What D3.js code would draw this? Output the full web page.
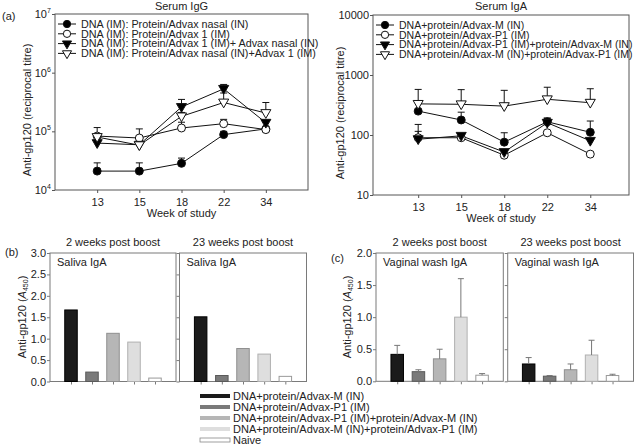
<!DOCTYPE html>
<html><head><meta charset="utf-8">
<script src="https://cdn.jsdelivr.net/npm/d3@7"></script>
<style>body{margin:0;background:#fff}svg text{font-family:"Liberation Sans",Arial,sans-serif;fill:#222}</style>
</head><body><svg id="c" width="635" height="447"></svg>
<script>
// ---------- DATA ----------
const weeks = ["13","15","18","22","34"];
const iggNames = ["DNA (IM): Protein/Advax nasal (IN)","DNA (IM): Protein/Advax 1 (IM)","DNA (IM): Protein/Advax 1 (IM)+ Advax nasal (IN)","DNA (IM): Protein/Advax nasal (IN)+Advax 1 (IM)"];
const igg1 = [2.1e4, 2.1e4, 2.85e4, 8.8e4, 1.1e5];
const igg1Err = [2.9e4, 2.9e4, 3.5e4, 1.0e5, 1.15e5];
const igg2 = [8.3e4, 7.7e4, 1.14e5, 1.35e5, 1.07e5];
const igg2Err = [1.16e5, 1.1e5, 1.43e5, 1.6e5, 1.12e5];
const igg3 = [6.3e4, 5.9e4, 2.6e5, 5.3e5, 1.4e5];
const igg3Err = [7e4, 6.5e4, 3.5e5, 6.3e5, 1.5e5];
const igg4 = [8.0e4, 5.8e4, 1.8e5, 3.1e5, 2.05e5];
const igg4Err = [9e4, 6.5e4, 2.1e5, 4.5e5, 3.1e5];
const iggTicks = [1e4, 1e5, 1e6, 1e7];

const igaNames = ["DNA+protein/Advax-M (IN)","DNA+protein/Advax-P1 (IM)","DNA+protein/Advax-P1 (IM)+protein/Advax-M (IN)","DNA+protein/Advax-M (IN)+protein/Advax-P1 (IM)"];
const iga1 = [250, 178, 76, 166, 111];
const iga1Err = [255, 240, 109, 192, 171];
const iga2 = [90, 90, 46, 109, 48];
const iga2Err = [115, 93, 48, 112, 50];
const iga3 = [85, 97, 52, 160, 80];
const iga3Err = [150, 100, 55, 190, 85];
const iga4 = [330, 325, 303, 394, 345];
const iga4Err = [575, 570, 555, 625, 590];
const igaTicks = [10, 100, 1000, 10000];

const groups = ["DNA+protein/Advax-M (IN)","DNA+protein/Advax-P1 (IM)","DNA+protein/Advax-P1 (IM)+protein/Advax-M (IN)","DNA+protein/Advax-M (IN)+protein/Advax-P1 (IM)","Naive"];
const salivaWk2 = [1.67, 0.22, 1.125, 0.92, 0.08];
const salivaWk23 = [1.51, 0.14, 0.77, 0.64, 0.12];
const vaginalWk2 = [0.42, 0.15, 0.35, 1.0, 0.095];
const vaginalWk2Err = [0.56, 0.18, 0.50, 1.60, 0.12];
const vaginalWk23 = [0.27, 0.08, 0.18, 0.41, 0.09];
const vaginalWk23Err = [0.37, 0.09, 0.27, 0.64, 0.11];
const salivaTicks = [0, 0.5, 1.0, 1.5, 2.0, 2.5, 3.0];
const vaginalTicks = [0, 0.5, 1.0, 1.5, 2.0];

// ---------- STYLES ----------
const barFill = ["#1b1b1b","#7a7a7a","#b6b6b6","#dedede","#ffffff"];
const barStroke = ["#000","#5a5a5a","#8f8f8f","#b0b0b0","#999"];
const FS = 11;

const svg = d3.select("#c");

function txt(x, y, s, opts={}) {
  const t = svg.append("text").attr("x", x).attr("y", y).attr("font-size", opts.size||FS)
    .attr("text-anchor", opts.anchor||"start").text(s);
  if (opts.rotate) t.attr("transform", `rotate(-90,${x},${y})`);
  return t;
}

// ---------- LINE PANELS ----------
function linePanel(cfg) {
  const {x0,x1,y0,y1,dom,xdom,series,names,ticks,tickFmt,title,ylabelX,legSize} = cfg;
  const x = d3.scaleLinear().domain(xdom).range([x0,x1]);
  const y = d3.scaleLog().domain(dom).range([y1,y0]);
  const g = svg.append("g");
  g.append("rect").attr("x",x0).attr("y",y0).attr("width",x1-x0).attr("height",y1-y0)
    .attr("fill","none").attr("stroke","#555").attr("stroke-width",1);
  const ya = d3.axisLeft(y).tickValues(ticks).tickSize(3).tickFormat("");
  g.append("g").attr("transform",`translate(${x0},0)`).call(ya)
    .call(s=>{s.select(".domain").remove(); s.selectAll("line").attr("stroke","#555");});
  ticks.forEach(t=>tickFmt(x0-4, y(t)+4, t));
  const xa = d3.axisBottom(x).tickValues(d3.range(weeks.length)).tickSize(3).tickFormat(i=>weeks[i]);
  g.append("g").attr("transform",`translate(0,${y1})`).call(xa)
    .call(s=>{s.select(".domain").remove(); s.selectAll("line").attr("stroke","#555");
      s.selectAll("text").attr("font-size",FS).attr("font-family","Liberation Sans, Arial, sans-serif").attr("fill","#222").attr("dy","0.9em");});
  txt((x0+x1)/2, 10, title, {anchor:"middle"});
  txt((x0+x1)/2, y1+27, "Week of study", {anchor:"middle"});
  txt(ylabelX, (y0+y1)/2+8, "Anti-gp120  (reciprocal titre)", {anchor:"middle", rotate:true});

  const line = d3.line().x((d,i)=>x(i)).y(d=>y(d));
  const sym = [
    {type:d3.symbolCircle, fill:"#000", size:50, rot:0},
    {type:d3.symbolCircle, fill:"#fff", size:50, rot:0},
    {type:d3.symbolTriangle, fill:"#000", size:44, rot:180},
    {type:d3.symbolTriangle, fill:"#fff", size:44, rot:180}
  ];
  series.forEach(s=>{
    g.append("path").attr("d",line(s.v)).attr("fill","none").attr("stroke","#111").attr("stroke-width",1);
  });
  series.forEach(s=>{
    s.v.forEach((v,i)=>{
      const e = s.e[i];
      if (e > v) {
        g.append("line").attr("x1",x(i)).attr("x2",x(i)).attr("y1",y(v)).attr("y2",y(e)).attr("stroke","#111");
        g.append("line").attr("x1",x(i)-3.5).attr("x2",x(i)+3.5).attr("y1",y(e)).attr("y2",y(e)).attr("stroke","#111");
      }
    });
  });
  series.forEach((s,k)=>{
    const sm = sym[k];
    s.v.forEach((v,i)=>{
      g.append("path").attr("d",d3.symbol().type(sm.type).size(sm.size)())
        .attr("transform",`translate(${x(i)},${y(v)+(sm.rot?-0.5:0)}) rotate(${sm.rot})`)
        .attr("fill",sm.fill).attr("stroke","#111").attr("stroke-width",1);
    });
  });
  names.forEach((n,k)=>{
    const ly = y0+10+k*9.8;
    const lx = x0+3;
    g.append("line").attr("x1",lx).attr("x2",lx+18).attr("y1",ly).attr("y2",ly).attr("stroke","#111");
    const sm = sym[k];
    g.append("path").attr("d",d3.symbol().type(sm.type).size(sm.size-8)())
      .attr("transform",`translate(${lx+9},${ly}) rotate(${sm.rot})`)
      .attr("fill",sm.fill).attr("stroke","#111");
    txt(lx+23, ly+3.8, n, {size:legSize});
  });
}

linePanel({x0:55,x1:308,y0:14,y1:190,dom:[1e4,1e7],xdom:[-1,5],ylabelX:31,legSize:10.8,
  series:[{v:igg1,e:igg1Err},{v:igg2,e:igg2Err},{v:igg3,e:igg3Err},{v:igg4,e:igg4Err}],
  names:iggNames,ticks:iggTicks,title:"Serum IgG",
  tickFmt:(x,y,t)=>{
    const e = Math.round(Math.log10(t));
    svg.append("text").attr("x",x-4).attr("y",y).attr("font-size",FS).attr("text-anchor","end").text("10");
    svg.append("text").attr("x",x-4).attr("y",y-5).attr("font-size",7).attr("text-anchor","start").text(e);
  }});
linePanel({x0:373,x1:629,y0:15,y1:195,dom:[10,10000],xdom:[-1.05,4.9],ylabelX:344,legSize:10.5,
  series:[{v:iga1,e:iga1Err},{v:iga2,e:iga2Err},{v:iga3,e:iga3Err},{v:iga4,e:iga4Err}],
  names:igaNames,ticks:igaTicks,title:"Serum IgA",
  tickFmt:(x,y,t)=>{ txt(x,y,String(t),{anchor:"end"}); }});

txt(2, 20, "(a)");

// ---------- BAR PANELS ----------
function barBox(cfg) {
  const {x0,x1,y0,y1,dom,vals,errs,ticks,labels,label,title} = cfg;
  const x = d3.scaleLinear().domain([0,6]).range([x0,x1]);
  const y = d3.scaleLinear().domain(dom).range([y1,y0]);
  const g = svg.append("g");
  g.append("rect").attr("x",x0).attr("y",y0).attr("width",x1-x0).attr("height",y1-y0)
    .attr("fill","none").attr("stroke","#7a7a7a");
  const ya = d3.axisLeft(y).tickValues(ticks).tickSize(3).tickFormat(labels? d3.format(".1f") : "");
  g.append("g").attr("transform",`translate(${x0},0)`).call(ya)
    .call(s=>{s.select(".domain").remove(); s.selectAll("line").attr("stroke","#7a7a7a");
      s.selectAll("text").attr("font-size",FS).attr("font-family","Liberation Sans, Arial, sans-serif").attr("fill","#222").attr("x",-4);});
  const xa = d3.axisBottom(x).tickValues(d3.range(1,6)).tickSize(3).tickFormat("");
  g.append("g").attr("transform",`translate(0,${y1})`).call(xa)
    .call(s=>{s.select(".domain").remove(); s.selectAll("line").attr("stroke","#7a7a7a");});
  const bw = 12.5;
  vals.forEach((v,i)=>{
    g.append("rect").attr("x",x(i+1)-bw/2).attr("y",y(v)).attr("width",bw).attr("height",y(0)-y(v))
      .attr("fill",barFill[i]).attr("stroke",barStroke[i]).attr("stroke-width",1);
    if (errs) {
      const e = errs[i];
      g.append("line").attr("x1",x(i+1)).attr("x2",x(i+1)).attr("y1",y(v)).attr("y2",y(e)).attr("stroke","#777");
      g.append("line").attr("x1",x(i+1)-3).attr("x2",x(i+1)+3).attr("y1",y(e)).attr("y2",y(e)).attr("stroke","#777");
    }
  });
  txt(x0+7, y0+13, label);
  txt((x0+x1)/2, 246, title, {anchor:"middle"});
}

barBox({x0:50,x1:176,y0:253,y1:381.5,dom:[0,3],vals:salivaWk2,ticks:salivaTicks,labels:true,label:"Saliva IgA",title:"2 weeks post boost"});
barBox({x0:179.5,x1:306.5,y0:253,y1:381.5,dom:[0,3],vals:salivaWk23,ticks:salivaTicks,labels:false,label:"Saliva IgA",title:"23 weeks post boost"});
barBox({x0:376,x1:503.3,y0:253,y1:381.3,dom:[0,2],vals:vaginalWk2,errs:vaginalWk2Err,ticks:vaginalTicks,labels:true,label:"Vaginal wash IgA",title:"2 weeks post boost"});
barBox({x0:507.7,x1:633.5,y0:253,y1:381.3,dom:[0,2],vals:vaginalWk23,errs:vaginalWk23Err,ticks:vaginalTicks,labels:false,label:"Vaginal wash IgA",title:"23 weeks post boost"});

txt(5, 256, "(b)");
txt(331, 262, "(c)");

function a450Label(x, y) {
  const t = svg.append("text").attr("x",x).attr("y",y).attr("font-size",FS).attr("text-anchor","middle")
    .attr("transform",`rotate(-90,${x},${y})`);
  t.append("tspan").text("Anti-gp120 (");
  t.append("tspan").attr("font-style","italic").text("A");
  t.append("tspan").attr("font-size",7).attr("dy",2).text("450");
  t.append("tspan").attr("dy",-2).text(")");
}
a450Label(26, 317);
a450Label(351, 317);

// ---------- BOTTOM LEGEND ----------
groups.forEach((n,i)=>{
  const ly = 396 + i*11;
  svg.append("rect").attr("x",200).attr("y",ly-2).attr("width",30).attr("height",4)
    .attr("fill",barFill[i]).attr("stroke", i===4 ? "#888" : "none").attr("stroke-width",0.8);
  txt(233, ly+4, n, {size:11});
});
</script></body></html>
